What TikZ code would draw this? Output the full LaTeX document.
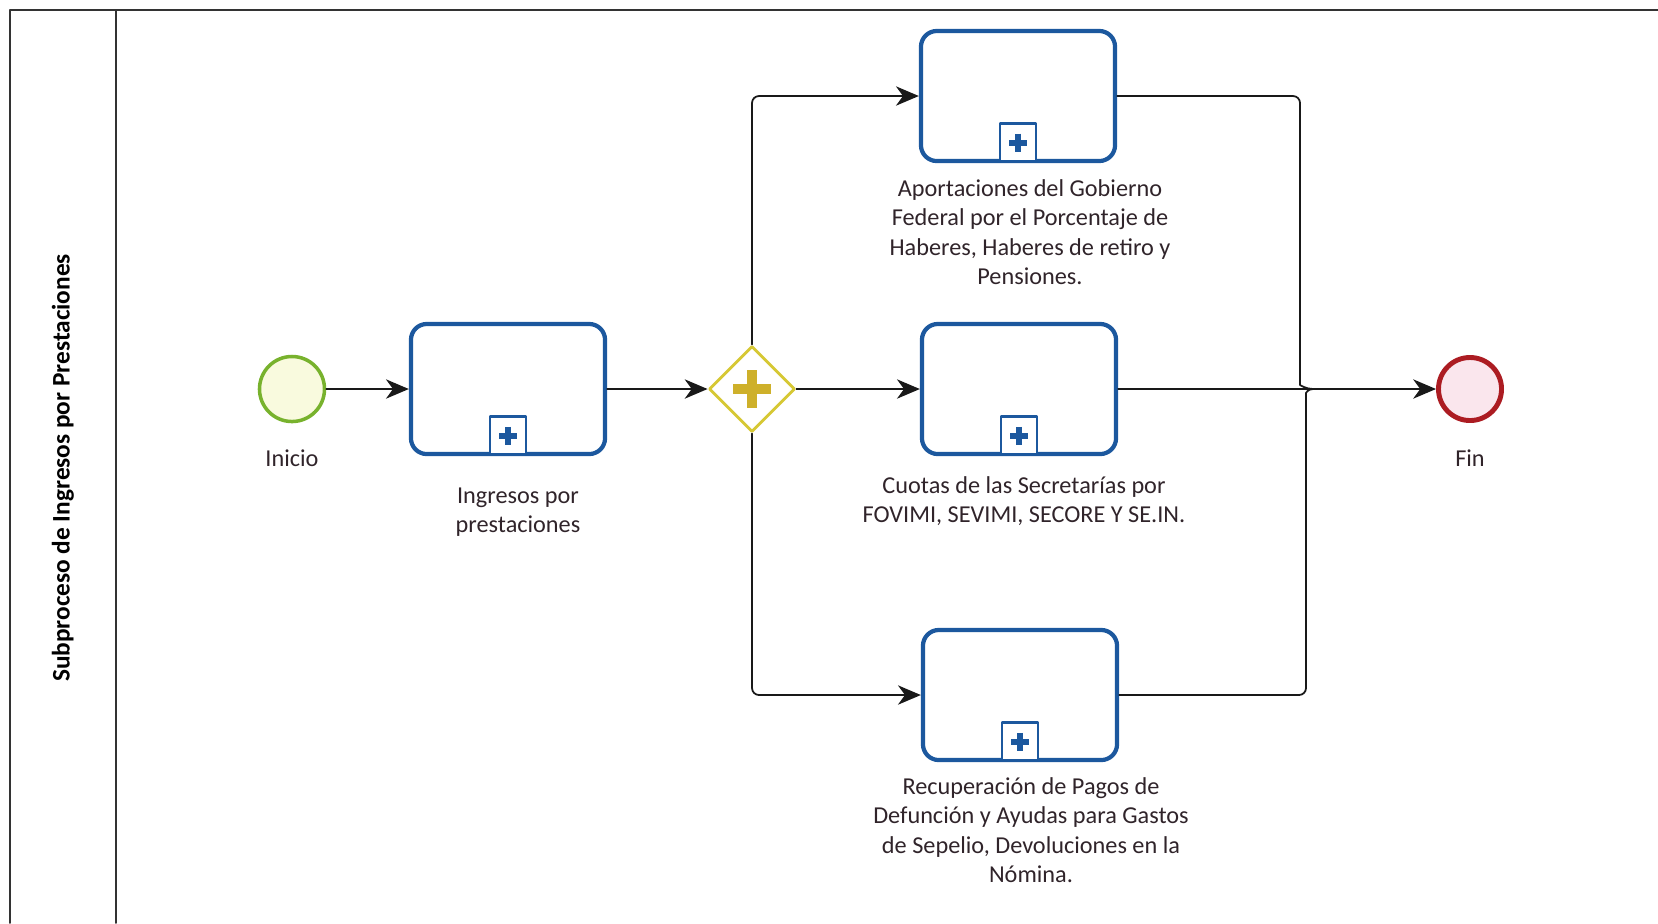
\documentclass[tikz,border=0pt]{standalone}
\usepackage{fontspec}
\setmainfont{Carlito}
\usetikzlibrary{arrows.meta,shapes.geometric,calc}

\definecolor{taskblue}{RGB}{28,88,158}
\definecolor{startgreen}{RGB}{120,178,45}
\definecolor{startfill}{RGB}{249,250,222}
\definecolor{endred}{RGB}{172,28,34}
\definecolor{endfill}{RGB}{250,230,237}
\definecolor{gateline}{RGB}{214,200,52}
\definecolor{gatecross}{RGB}{206,176,42}
\definecolor{labeltext}{RGB}{48,36,42}

\begin{document}
\begin{tikzpicture}[
						x=0.01cm,
						y=-0.01cm,
						line cap=round,
						line join=round,
						pool/.style={draw=black!80, line width=0.5pt},
						flow/.style={draw=black!90, line width=0.5pt},
						arr/.style={flow, -{Stealth[length=6.5pt,width=5.5pt,inset=2pt]}},
						task/.style={draw=taskblue, line width=1.2pt, rounded corners=4.5pt, fill=white, minimum width=1.94cm, minimum height=1.30cm, inner sep=0pt},
						marker/.style={draw=taskblue, line width=0.8pt, fill=white, minimum width=0.36cm, minimum height=0.38cm, inner sep=0pt, anchor=south},
						cross/.style={draw=taskblue, line width=1.8pt, line cap=butt},
						startev/.style={circle, draw=startgreen, line width=1pt, fill=startfill, minimum size=0.65cm, inner sep=0pt},
						endev/.style={circle, draw=endred, line width=1.4pt, fill=endfill, minimum size=0.63cm, inner sep=0pt},
						gate/.style={diamond, draw=gateline, line width=0.8pt, fill=white, minimum size=0.86cm, inner sep=0pt},
						gcross/.style={draw=gatecross, line width=2.6pt, line cap=butt},
						lbl/.style={font=\fontsize{6.9}{8.4}\selectfont, text=labeltext, align=center, inner sep=0pt}
						]
						
						\useasboundingbox (0,0) rectangle (1658,923);
						
						% Pool and lane
						\draw[pool] (10,923) -- (10,10) -- (1658,10);
						\draw[pool] (116,10) -- (116,923);
						\node[lbl, text=black, rotate=90, font=\fontsize{7.2}{8.6}\selectfont\bfseries] (lane) at (63,468) {Subproceso de Ingresos por Prestaciones};
						
						% Events
						\node[startev] (inicio) at (292,389) {};
						\node[lbl] (inicio-l) at (292,458) {Inicio};
						\node[endev] (fin) at (1470,389) {};
						\node[lbl] (fin-l) at (1470,458) {Fin};
						
						% Tasks
						\node[task] (taskI) at (508,389) {};
						\node[task] (taskA) at (1018,96) {};
						\node[task] (taskB) at (1019,389) {};
						\node[task] (taskC) at (1020,695) {};
						
						\foreach \t in {taskI,taskA,taskB,taskC} {
							\node[marker] (\t-m) at (\t.south) {};
							\draw[cross] ($(\t-m.center)+(-9,0)$) -- ($(\t-m.center)+(9,0)$);
							\draw[cross] ($(\t-m.center)+(0,-9)$) -- ($(\t-m.center)+(0,9)$);
						}
						
						\node[lbl] (taskI-l) at (518,512) {Ingresos por\\prestaciones};
						\node[lbl] (taskA-l) at (1030,232) {Aportaciones del Gobierno\\Federal por el Porcentaje de\\Haberes, Haberes de retiro y\\Pensiones.};
						\node[lbl] (taskB-l) at (1024,501) {Cuotas de las Secretarías por\\FOVIMI, SEVIMI, SECORE Y SE.IN.};
						\node[lbl] (taskC-l) at (1031,830) {Recuperación de Pagos de\\Defunción y Ayudas para Gastos\\de Sepelio, Devoluciones en la\\Nómina.};
						
						% Parallel gateway
						\node[gate] (gw) at (752,389) {};
						\draw[gcross] ($(gw.center)+(-19,0)$) -- ($(gw.center)+(19,0)$);
						\draw[gcross] ($(gw.center)+(0,-19)$) -- ($(gw.center)+(0,19)$);
						
						% Sequence flows
						\draw[arr] (inicio) -- (taskI);
						\draw[arr] (taskI) -- (gw);
						\draw[arr, rounded corners=2pt] (gw.north) |- (taskA.west);
						\draw[arr] (gw) -- (taskB);
						\draw[arr, rounded corners=2pt] (gw.south) |- (taskC.west);
						
						% Merge into end event
						\coordinate (merge) at (1313,389);
						\coordinate (mergeA) at (1300,378);
						\coordinate (mergeC) at (1306,400);
						\draw[flow, rounded corners=2pt] (taskA.east) -| (mergeA) [sharp corners] .. controls +(0,7) and +(-7,0) .. (merge);
						\draw[flow, rounded corners=2pt] (taskC.east) -| (mergeC) [sharp corners] .. controls +(0,-7) and +(-5,0) .. (merge);
						\draw[arr] (taskB) -- (fin);
						
					\end{tikzpicture}
\end{document}
